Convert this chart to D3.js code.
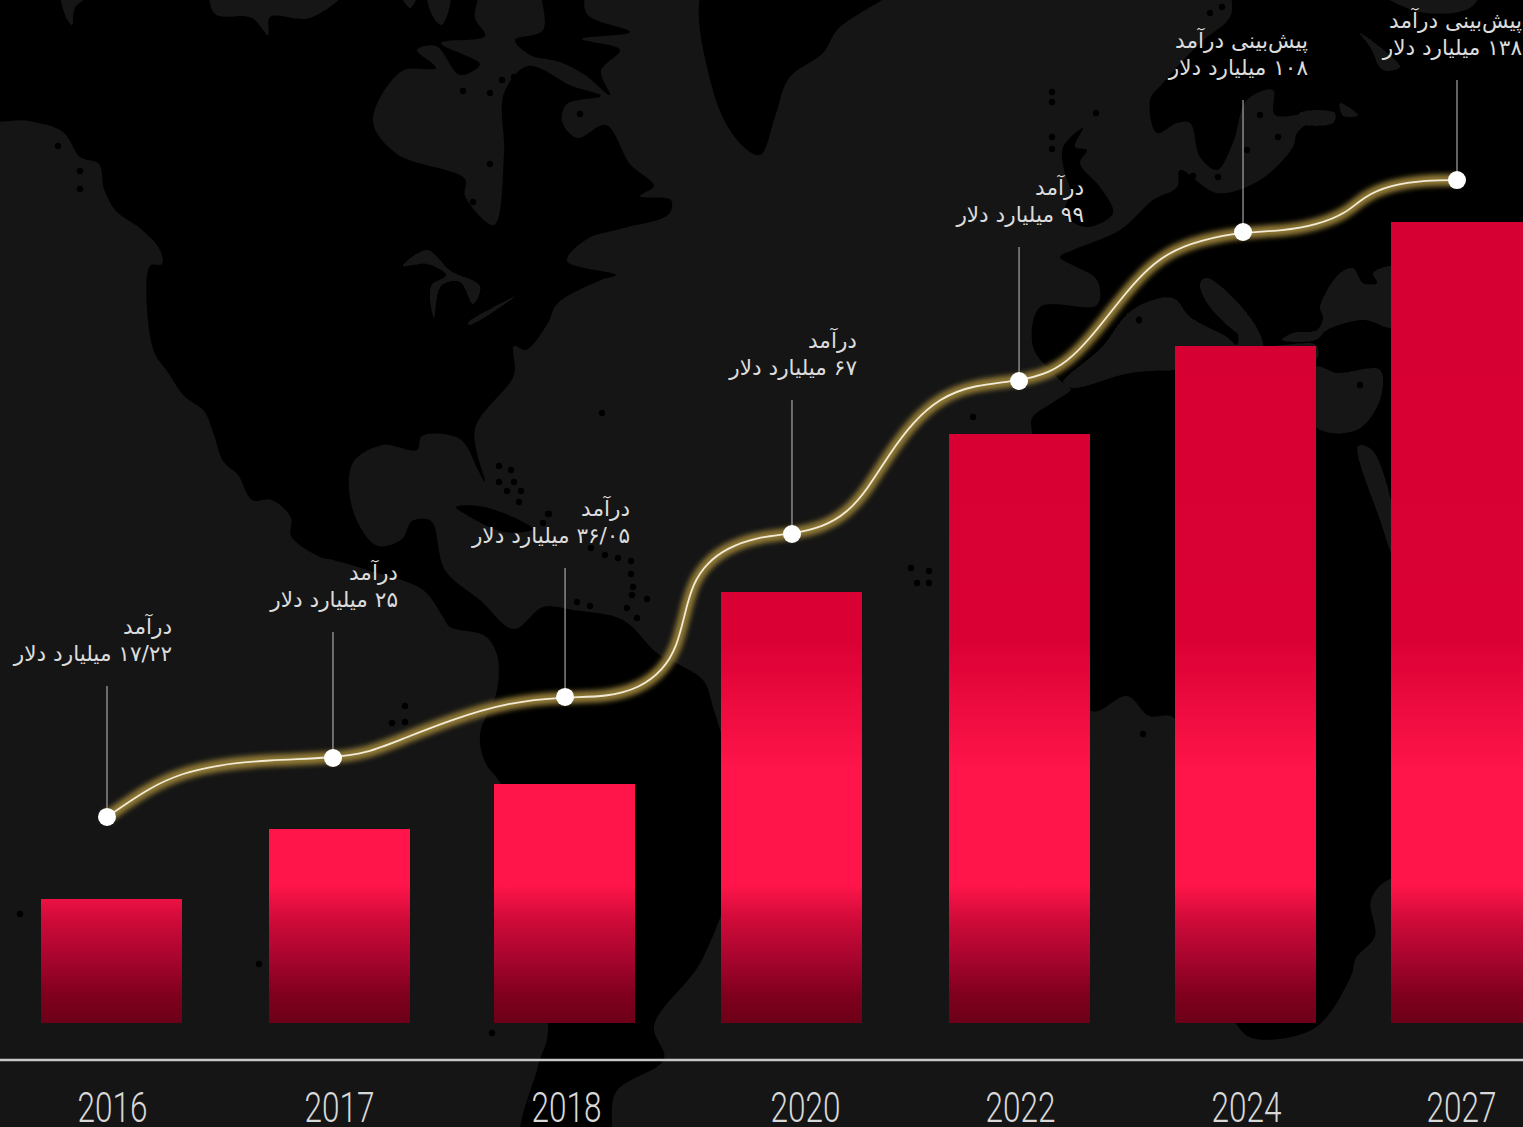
<!DOCTYPE html>
<html lang="fa">
<head>
<meta charset="utf-8">
<script src="https://cdn.jsdelivr.net/npm/d3@7"></script>
<style>
html,body{margin:0;padding:0;background:#151515;overflow:hidden}
svg{display:block}
.lab{direction:rtl;text-anchor:start;font-family:"DejaVu Sans","Noto Sans",sans-serif;font-size:21.6px;fill:#dcdcdc}
</style>
</head>
<body>
<svg id="c" width="1523" height="1127"></svg>
<script>
// ---- chart data ----
const years = ["2016","2017","2018","2020","2022","2024","2027"];
const revenue = [17.22,25,36.05,67,99,108,138];
const labelHead = ["درآمد","درآمد","درآمد","درآمد","درآمد","پیش‌بینی درآمد","پیش‌بینی درآمد"];
const labelValue = ["۱۷/۲۲ میلیارد دلار","۲۵ میلیارد دلار","۳۶/۰۵ میلیارد دلار","۶۷ میلیارد دلار","۹۹ میلیارد دلار","۱۰۸ میلیارد دلار","۱۳۸ میلیارد دلار"];
// glowing trend line: position along the axis (%) and level
const linePos = [0,3.19,5.63,8.15,11.85,16.74,19.26,21.7,25.41,29.78,33.93,37.04,39.48,41.19,42.22,42.81,43.41,44.44,45.93,48.15,50.74,53.04,54.81,56.3,58,59.7,61.7,64.15,67.56,69.85,71.56,73.33,75.04,76.74,78.52,80.96,84.15,87.11,89.63,91.85,93.04,95.04,97.78,100];
const lineLevel = [35.52,40.69,43.1,44.48,45.34,45.69,46.55,48.79,52.24,55.34,56.21,56.21,57.76,60.86,64.83,70.69,75.86,79.31,81.9,83.79,84.31,85.52,87.93,91.9,98.28,103.62,107.76,110,110.69,112.07,114.83,119.48,124.66,129.31,132.76,135,136.38,136.55,137.59,139.66,142.41,144.48,145.34,145.34];
const markerIndex = [0,5,10,20,28,36,43];
const leaderTop = [58.1,67.41,78.45,107.41,133.79,159.14,162.59];

// ---- scales ----
const barCenter = d3.scaleOrdinal().domain(years).range([111.5,339.5,564.5,791.5,1019.5,1245.5,1461.5]);
const tickX = d3.scaleOrdinal().domain(years).range([112,339,566,805,1020,1246,1461]);
const barY = d3.scaleLinear().domain([0,...revenue]).range([1023,899,829,784,592,434,346,222]); // source bars are not to linear scale
const lineX = d3.scaleLinear().domain([0,100]).range([107,1457]);
const lineY = d3.scaleLinear().domain([0,150]).range([1023,153]);
const barW = 141;

const svg = d3.select("#c");
const defs = svg.append("defs");
const g = defs.append("linearGradient").attr("id","barGrad").attr("gradientUnits","userSpaceOnUse")
  .attr("x1",0).attr("x2",0).attr("y1",222).attr("y2",1023);
[[0,"#d60032"],[.52,"#da0034"],[.685,"#ff1549"],[.828,"#ff1549"],[.874,"#cc0a38"],[.919,"#a8052e"],[.964,"#80001d"],[1,"#6c0018"]]
  .forEach(s=>g.append("stop").attr("offset",s[0]).attr("stop-color",s[1]));
const f1 = defs.append("filter").attr("id","glow").attr("filterUnits","userSpaceOnUse").attr("x",0).attr("y",0).attr("width",1523).attr("height",1127);
f1.append("feGaussianBlur").attr("stdDeviation",2.4);
const f2 = defs.append("filter").attr("id","soft");
f2.append("feGaussianBlur").attr("stdDeviation",0.6);
const f3 = defs.append("filter").attr("id","mapsoft").attr("filterUnits","userSpaceOnUse").attr("x",-20).attr("y",-20).attr("width",1563).attr("height",1167);
f3.append("feGaussianBlur").attr("stdDeviation",0.7);

// ---- decorative world-map backdrop (not data) ----
const mapLand = [
 // North & South America
 [[-20,-20],[-20,116],[29,121],[63,132],[80,157],[99,164],[104,189],[116,211],[141,229],[160,250],[162,264],[150,266],[148,321],[155,354],[167,371],[184,396],[204,411],[213,432],[223,461],[238,475],[252,500],[272,500],[291,518],[291,536],[320,557],[333,560],[367,570],[423,590],[443,617],[450,627],[485,636],[497,655],[497,690],[480,734],[485,762],[504,790],[548,1030],[538,1066],[523,1145],[606,1145],[616,1092],[664,1059],[654,1026],[703,958],[740,830],[713,707],[703,680],[680,665],[657,653],[623,620],[573,610],[543,607],[514,629],[480,600],[445,570],[431,521],[412,521],[402,539],[378,546],[359,525],[349,489],[354,461],[383,445],[417,450],[422,436],[460,439],[478,470],[485,482],[475,429],[514,375],[514,346],[526,350],[548,323],[557,304],[601,280],[616,275],[567,261],[587,239],[620,229],[669,214],[671,200],[640,196],[654,186],[630,164],[606,125],[577,138],[562,121],[567,104],[601,96],[572,86],[528,66],[504,93],[504,154],[494,225],[465,196],[465,179],[397,154],[373,121],[402,71],[436,68],[417,50],[436,46],[460,75],[480,64],[441,43],[485,36],[475,18],[475,-20]],
 // Baffin
 [[582,39],[620,50],[601,71],[610,95],[585,75],[560,62],[530,55],[515,40],[543,30],[543,-20],[582,-20],[587,14],[630,32]],
 // Greenland
 [[708,-20],[712,87],[737,140],[760,155],[775,117],[789,78],[823,53],[838,29],[905,-20]],
 // Eurasia + Africa
 [[1237,-20],[1230,17],[1200,43],[1163,83],[1150,100],[1157,133],[1177,123],[1190,123],[1200,157],[1217,170],[1233,143],[1247,100],[1273,90],[1275,115],[1320,112],[1297,133],[1293,147],[1260,180],[1217,193],[1180,170],[1177,187],[1153,200],[1120,230],[1073,250],[1060,257],[1097,280],[1097,305],[1040,307],[1033,347],[1053,373],[1063,383],[1071,389],[1052,403],[1032,418],[1032,434],[1040,600],[1091,711],[1127,696],[1149,716],[1174,718],[1200,900],[1239,1028],[1256,1039],[1315,1028],[1351,976],[1356,958],[1375,936],[1371,900],[1392,878],[1543,878],[1543,-20]],
 // UK
 [[1063,147],[1083,128],[1075,147],[1087,150],[1080,163],[1100,187],[1113,213],[1087,227],[1065,215],[1070,190],[1064,170]],
 // Cuba
 [[456,507],[485,507],[533,529],[504,532],[465,514]]
];
const mapSea = [
 // Mediterranean
 [[1063,383],[1102,347],[1132,310],[1173,298],[1190,317],[1227,337],[1237,345],[1240,330],[1250,335],[1262,345],[1316,345],[1316,360],[1175,370],[1130,373],[1073,388]],
 // Black / Caspian area
 [[1282,340],[1293,333],[1317,330],[1323,318],[1320,307],[1340,273],[1353,268],[1363,283],[1377,283],[1373,273],[1395,267],[1395,327],[1363,320],[1327,330],[1316,340]],
 [[1200,283],[1207,278],[1250,317],[1263,346],[1237,333],[1207,303]],
 [[1316,367],[1337,373],[1380,370],[1380,400],[1357,430],[1316,427]],
 [[1358,446],[1372,450],[1395,520],[1395,560],[1380,520]],
 // north-east patches
 [[1360,33],[1400,67],[1383,70],[1370,47]],
 [[1377,-10],[1480,-10],[1470,8],[1420,12]],
 [[1300,113],[1335,113],[1333,123],[1300,123]],
 [[1340,103],[1358,115],[1343,116]],
 // Arctic strips over North America
 [[212,-10],[345,-10],[310,18],[270,17],[268,35],[252,18],[215,14]],
 [[62,-10],[95,-10],[75,8],[72,25],[65,15]],
 [[400,-10],[418,-10],[410,8]],
 [[428,-10],[450,-10],[442,25],[432,15]],
 // Great Lakes
 [[403,266],[427,250],[451,271],[480,286],[473,304],[460,282],[441,286],[434,318],[431,286],[446,275],[427,264]],
 [[468,323],[516,296],[470,325]]
];
const mapDots = [[602,413],[549,514],[543,523],[591,548],[605,555],[618,558],[631,561],[631,574],[633,587],[632,595],[647,599],[627,608],[637,618],[577,602],[590,606],[911,568],[929,571],[917,583],[929,583],[973,417],[499,466],[511,470],[499,482],[514,482],[507,491],[521,491],[519,502],[548,514],[20,914],[259,964],[492,1033],[405,706],[392,723],[405,722],[1165,687],[1159,700],[1149,712],[1143,734],[58,146],[80,171],[80,189],[490,164],[473,202],[463,91],[490,93],[514,77],[502,80],[580,114],[1096,113],[1052,137],[1052,149],[1052,92],[1052,102],[1210,13],[1222,7],[1260,115],[1278,137],[1193,176],[1218,177],[1247,150],[1228,281],[1176,268],[1174,293],[1139,320],[1360,385]];
const shape = d3.line().curve(d3.curveCatmullRomClosed.alpha(0.5));
const mapG = svg.append("g").attr("filter","url(#mapsoft)");
mapG.selectAll("path.land").data(mapLand).join("path").attr("class","land").attr("d",shape).attr("fill","#000");
mapG.selectAll("path.sea").data(mapSea).join("path").attr("class","sea").attr("d",shape).attr("fill","#151515");
mapG.selectAll("circle").data(mapDots).join("circle").attr("cx",d=>d[0]).attr("cy",d=>d[1]).attr("r",3.2).attr("fill","#000");

// ---- bars ----
svg.append("g").selectAll("rect").data(years).join("rect")
  .attr("x",d=>barCenter(d)-barW/2).attr("width",barW)
  .attr("y",(d,i)=>barY(revenue[i])).attr("height",(d,i)=>barY(0)-barY(revenue[i]))
  .attr("fill","url(#barGrad)");

// ---- leaders ----
svg.append("g").selectAll("line").data(markerIndex).join("line")
  .attr("x1",d=>lineX(linePos[d])).attr("x2",d=>lineX(linePos[d]))
  .attr("y1",(d,i)=>lineY(leaderTop[i])).attr("y2",d=>lineY(lineLevel[d]))
  .attr("stroke","#c4c4c4").attr("stroke-width",1);

// ---- glowing line ----
const curve = d3.line().x(i=>lineX(linePos[i])).y(i=>lineY(lineLevel[i])).curve(d3.curveBasis);
const idx = d3.range(linePos.length);
svg.append("path").attr("d",curve(idx)).attr("fill","none").attr("stroke","#8d7734").attr("stroke-width",12).attr("filter","url(#glow)");
svg.append("path").attr("d",curve(idx)).attr("fill","none").attr("stroke","#f1ebd8").attr("stroke-width",1.8);
svg.append("g").selectAll("circle").data(markerIndex).join("circle")
  .attr("cx",d=>lineX(linePos[d])).attr("cy",d=>lineY(lineLevel[d])).attr("r",9).attr("fill","#fff").attr("filter","url(#soft)");

// ---- labels ----
const lab = svg.append("g").selectAll("text").data(markerIndex).join("text").attr("class","lab");
lab.append("tspan").attr("x",d=>lineX(linePos[d])+65).attr("y",(d,i)=>lineY(leaderTop[i])-52).text((d,i)=>labelHead[i]);
lab.append("tspan").attr("x",d=>lineX(linePos[d])+65).attr("y",(d,i)=>lineY(leaderTop[i])-25).text((d,i)=>labelValue[i]);

// ---- axis ----
const axis = d3.axisBottom(tickX).tickSize(0).tickPadding(0);
const ax = svg.append("g").attr("transform","translate(0,1060)").call(axis);
ax.select(".domain").remove();
ax.selectAll("text").attr("y",62).attr("dy",0)
  .attr("font-family","Roboto,'Liberation Sans',sans-serif").attr("font-weight",300).attr("font-size",43)
  .attr("textLength",70).attr("lengthAdjust","spacingAndGlyphs").attr("fill","#d8d8d8");
svg.append("line").attr("x1",0).attr("x2",1523).attr("y1",1060).attr("y2",1060).attr("stroke","#c8c8c8").attr("stroke-width",2.5);
</script>
</body>
</html>
